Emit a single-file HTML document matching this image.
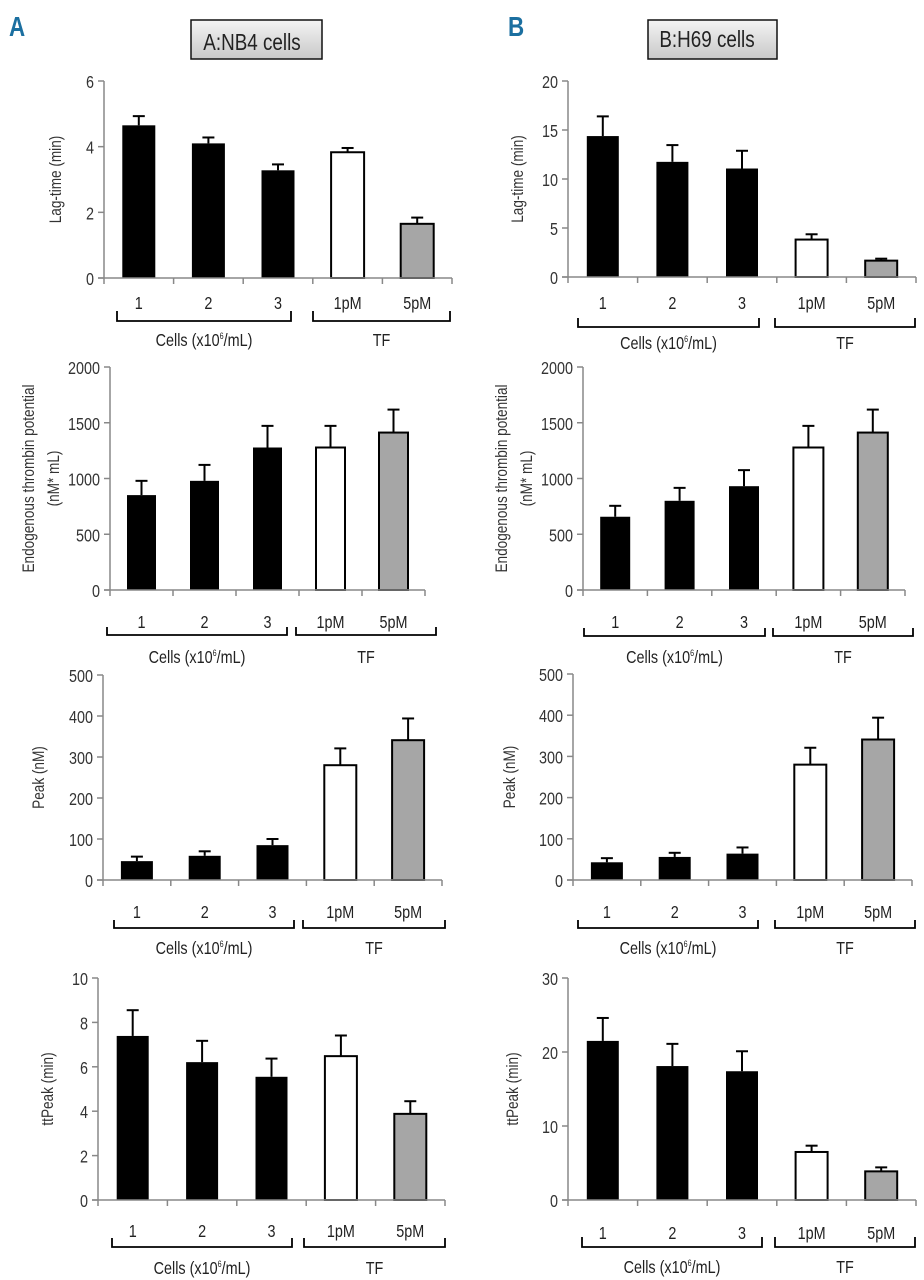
<!DOCTYPE html>
<html><head><meta charset="utf-8">
<style>
html,body{margin:0;padding:0;background:#fff;}
svg{display:block;font-family:"Liberation Sans Narrow","Liberation Sans",sans-serif;}
.tick{font-size:18px;fill:#333;}
.ylab{font-size:17px;fill:#333;}
.cat{font-size:18px;fill:#222;}
</style></head>
<body>
<svg id="fig" width="924" height="1280" viewBox="0 0 924 1280" xmlns="http://www.w3.org/2000/svg">
<defs>
<linearGradient id="boxg" x1="0" y1="0" x2="0" y2="1">
<stop offset="0" stop-color="#f4f4f4"/><stop offset="1" stop-color="#c8c8c8"/>
</linearGradient>
</defs>
<text transform="translate(9,36) scale(0.8,1)" font-size="28" font-weight="bold" fill="#1b6fa0">A</text>
<text transform="translate(508,36) scale(0.8,1)" font-size="28" font-weight="bold" fill="#1b6fa0">B</text>
<g>
<rect x="191" y="20" width="131" height="39" fill="url(#boxg)" stroke="#111" stroke-width="1.5"/>
<text transform="translate(252,50) scale(0.82,1)" font-size="23" fill="#222" text-anchor="middle">A:NB4 cells</text>
</g>
<g>
<rect x="648" y="20" width="129" height="39" fill="url(#boxg)" stroke="#111" stroke-width="1.5"/>
<text transform="translate(707,47) scale(0.82,1)" font-size="23" fill="#222" text-anchor="middle">B:H69 cells</text>
</g>
<g id="charts"></g>
</svg>
<script>
const categories = ["1","2","3","1pM","5pM"];
const barFills = ["#000","#000","#000","#fff","#a6a6a6"];
const aLagValues = [4.65, 4.10, 3.28, 3.83, 1.65];
const aLagErrTops = [4.93, 4.28, 3.46, 3.96, 1.84];
const aEtpValues = [851, 979, 1278, 1278, 1412];
const aEtpErrTops = [979, 1122, 1472, 1472, 1618];
const aPeakValues = [46, 59, 85, 280, 341];
const aPeakErrTops = [57, 70, 100, 321, 394];
const aTtpValues = [7.39, 6.21, 5.55, 6.48, 3.88];
const aTtpErrTops = [8.55, 7.17, 6.37, 7.41, 4.45];
const bLagValues = [14.38, 11.75, 11.07, 3.82, 1.67];
const bLagErrTops = [16.39, 13.46, 12.88, 4.36, 1.87];
const bEtpValues = [657, 800, 931, 1278, 1412];
const bEtpErrTops = [755, 916, 1075, 1472, 1618];
const bPeakValues = [43, 56, 64, 280, 341];
const bPeakErrTops = [53, 66, 79, 321, 394];
const bTtpValues = [21.5, 18.1, 17.4, 6.49, 3.87];
const bTtpErrTops = [24.6, 21.1, 20.1, 7.34, 4.41];
const lagTicksA = [0,2,4,6];
const etpTicks = [0,500,1000,1500,2000];
const peakTicks = [0,100,200,300,400,500];
const ttpTicksA = [0,2,4,6,8,10];
const lagTicksB = [0,5,10,15,20];
const ttpTicksB = [0,10,20,30];

const NS="http://www.w3.org/2000/svg";
const root=document.getElementById('charts');
function mk(tag,attrs,parent){const e=document.createElementNS(NS,tag);for(const k in attrs)e.setAttribute(k,attrs[k]);(parent||root).appendChild(e);return e;}
const SX=0.8;

const panels=[
 {id:'a-lag',vals:aLagValues,errs:aLagErrTops,ticks:lagTicksA,ylab:['Lag-time (min)'],x0:104,x1:452,yT:81,y0:278,bw:33,labY:302,brT:311,brB:321,bl:[117,291],br:[313,450],cellY:340,ylx:[56]},
 {id:'a-etp',vals:aEtpValues,errs:aEtpErrTops,ticks:etpTicks,ylab:['Endogenous thrombin potential','(nM* mL)'],x0:110,x1:425,yT:367,y0:590,bw:29,labY:621,brT:627,brB:635,bl:[107,287],br:[296,436],cellY:657,ylx:[29,54]},
 {id:'a-peak',vals:aPeakValues,errs:aPeakErrTops,ticks:peakTicks,ylab:['Peak (nM)'],x0:103,x1:442,yT:675,y0:880,bw:32,labY:911,brT:920,brB:928,bl:[114,294],br:[303,445],cellY:948,ylx:[39]},
 {id:'a-ttpeak',vals:aTtpValues,errs:aTtpErrTops,ticks:ttpTicksA,ylab:['ttPeak (min)'],x0:98,x1:445,yT:978,y0:1200,bw:32,labY:1230,brT:1238,brB:1247,bl:[112,292],br:[304,445],cellY:1268,ylx:[48]},
 {id:'b-lag',vals:bLagValues,errs:bLagErrTops,ticks:lagTicksB,ylab:['Lag-time (min)'],x0:568,x1:916,yT:81,y0:277,bw:32,labY:302,brT:318,brB:327,bl:[578,759],br:[775,915],cellY:343,ylx:[518]},
 {id:'b-etp',vals:bEtpValues,errs:bEtpErrTops,ticks:etpTicks,ylab:['Endogenous thrombin potential','(nM* mL)'],x0:583,x1:905,yT:367,y0:590,bw:30,labY:621,brT:628,brB:636,bl:[584,765],br:[773,913],cellY:657,ylx:[502,527]},
 {id:'b-peak',vals:bPeakValues,errs:bPeakErrTops,ticks:peakTicks,ylab:['Peak (nM)'],x0:573,x1:912,yT:674,y0:880,bw:32,labY:911,brT:920,brB:928,bl:[578,758],br:[775,915],cellY:948,ylx:[510]},
 {id:'b-ttpeak',vals:bTtpValues,errs:bTtpErrTops,ticks:ttpTicksB,ylab:['ttPeak (min)'],x0:568,x1:916,yT:978,y0:1200,bw:32,labY:1232,brT:1237,brB:1247,bl:[582,762],br:[775,915],cellY:1267,ylx:[513]}
];

panels.forEach(p=>{
 const g=mk('g',{});
 
 
 const max=p.ticks[p.ticks.length-1];
 const yS=v=>p.y0-(v/max)*(p.y0-p.yT);
 const cw=(p.x1-p.x0)/categories.length;
 const xC=i=>p.x0+cw*(i+0.5);
 const ya=mk('line',{x1:p.x0,y1:p.yT,x2:p.x0,y2:p.y0,stroke:'#888','stroke-width':1.5},g);
 
 
 p.ticks.forEach(t=>{
  const y=yS(t);
  mk('line',{x1:p.x0-6,y1:y,x2:p.x0,y2:y,stroke:'#888','stroke-width':1.5},g);
  const tl=mk('text',{transform:`translate(${p.x0-10},${y+7}) scale(${SX},1)`,'text-anchor':'end',class:'tick'},g);
  tl.textContent=t;
  
  
 });
 p.ylab.forEach((s,k)=>{
  const cy=(p.yT+p.y0)/2;
  const t=mk('text',{transform:`translate(${p.ylx[k]},${cy}) rotate(-90) scale(${SX},1)`,'text-anchor':'middle','dominant-baseline':'central',class:'ylab'},g);
  t.textContent=s;
  
  
 });
 categories.forEach((c,i)=>{
  const v=p.vals[i],e=p.errs[i];
  const cx=xC(i);
  const eb=mk('g',{},g);
  
  
  mk('line',{x1:cx,y1:yS(v),x2:cx,y2:yS(e),stroke:'#000','stroke-width':2},eb);
  mk('line',{x1:cx-6,y1:yS(e),x2:cx+6,y2:yS(e),stroke:'#000','stroke-width':2},eb);
  const r=mk('rect',{x:cx-p.bw/2,y:yS(v),width:p.bw,height:p.y0-yS(v),fill:barFills[i],stroke:'#000','stroke-width':i<3?0:2},g);
  
  
  const cl=mk('text',{transform:`translate(${cx},${p.labY+7}) scale(${SX},1)`,'text-anchor':'middle',class:'cat'},g);
  cl.textContent=c;
  
  
 });
 const xa=mk('line',{x1:p.x0-6,y1:p.y0,x2:p.x1,y2:p.y0,stroke:'#888','stroke-width':1.5},g);
 
 
 for(let i=0;i<=categories.length;i++){
  const x=p.x0+cw*i;
  mk('line',{x1:x,y1:p.y0,x2:x,y2:p.y0+6,stroke:'#888','stroke-width':1.5},g);
 }
 [[p.bl,'Cells','cells-bracket'],[p.br,'TF','tf-bracket']].forEach(([b,lab,nm])=>{
  const br=mk('path',{d:`M${b[0]} ${p.brT} V${p.brB} H${b[1]} V${p.brT}`,fill:'none',stroke:'#000','stroke-width':1.8},g);
  
  
  const t=mk('text',{transform:`translate(${(b[0]+b[1])/2},${p.cellY+6}) scale(${SX},1)`,'text-anchor':'middle',class:'cat','font-size':'17'},g);
  
  
  if(lab==='TF'){t.textContent='TF';}
  else{
   t.appendChild(document.createTextNode('Cells (x10'));
   const sp=mk('tspan',{'font-size':'9',dy:'-7'},t);sp.textContent='6';
   const sp2=mk('tspan',{dy:'7'},t);sp2.textContent='/mL)';
  }
 });
});
</script>
</body></html>
